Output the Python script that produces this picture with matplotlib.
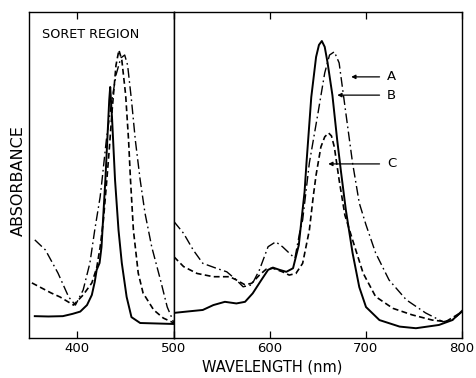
import numpy as np
import matplotlib.pyplot as plt

# Soret region (350-500 nm), absorbance in arbitrary units (0-100)
soret_solid_wl = [356, 370, 385, 395, 403, 410, 415, 418, 420, 423, 425, 427, 429, 431, 433, 434,
                  436, 439, 442.6, 446, 451, 456, 465, 500]
soret_solid_abs = [6.7, 6.6, 6.7, 7.4, 8.1, 10.1, 13.2, 17.2, 20.9, 23.0, 27.9, 38.3, 48.5, 60.7, 73.0, 77.0,
                   66.9, 48.5, 33.1, 23.0, 12.6, 6.4, 4.6, 4.3]

soret_dash_wl = [353, 373, 382, 396, 406, 415, 420, 423.6, 427, 430.5, 433, 436, 440, 443, 446, 450,
                 453, 455, 458, 463, 468, 479, 489, 500]
soret_dash_abs = [16.9, 13.8, 12.6, 10.1, 13.2, 16.9, 21.5, 27.9, 36.2, 48.5, 57.7, 69.9, 83.7, 88.3, 85.3, 74.5,
                  60.7, 48.5, 33.1, 19.9, 13.8, 8.6, 6.1, 4.6]

soret_dd_wl = [356, 367, 380, 391, 398, 406, 413, 418, 423.6, 425, 430, 435, 440, 445, 449, 452,
               456, 460, 465, 470, 477, 486, 493, 500]
soret_dd_abs = [30.1, 27.0, 19.9, 12.6, 10.1, 14.7, 23.0, 33.1, 43.3, 46.9, 60.7, 71.5, 80.7, 85.9, 86.8, 83.7,
                73.0, 60.7, 48.5, 38.3, 27.9, 17.8, 9.5, 4.6]

# visible region (500-800 nm)
vis_solid_wl = [500, 513, 530, 541, 553, 565, 574, 582, 591, 598, 603, 610, 617, 624, 630, 633, 636, 638,
                643, 648, 651, 654, 657, 660, 665, 670, 674, 679, 686, 693, 700, 714, 735, 752, 776, 790, 800]
vis_solid_abs = [7.7, 8.1, 8.6, 10.1, 11.1, 10.6, 11.1, 13.7, 17.8, 20.9, 21.6, 20.9, 20.3, 21.4, 28.5, 36.8,
                 44.8, 53.7, 73.9, 86.2, 89.9, 91.1, 89.3, 84.4, 74.5, 60.7, 50.9, 39.3, 26.1, 15.6, 9.5, 5.5,
                 3.5, 3.0, 4.0, 5.5, 8.3]

vis_dash_wl = [500, 510, 524, 541, 558, 565, 574, 581, 589, 596, 603, 613, 620, 627, 634, 641, 645, 648,
               653, 657, 661, 664, 667, 672, 678, 686, 697, 710, 728, 748, 769, 783, 800]
vis_dash_abs = [24.9, 21.9, 19.8, 18.8, 18.8, 17.8, 16.3, 16.8, 19.3, 21.1, 21.4, 20.3, 19.3, 19.8, 22.9, 33.1,
                43.3, 50.0, 58.6, 61.7, 62.9, 62.0, 58.6, 48.5, 37.7, 30.1, 19.9, 12.7, 9.1, 7.1, 5.5, 5.0, 8.0]

vis_dd_wl = [500, 510, 520, 530, 544, 555, 565, 572, 581, 589, 598, 606, 613, 622, 626, 631, 634, 641,
             650, 657, 662, 667, 672, 679, 686, 693, 700, 710, 724, 742, 762, 780, 790, 800]
vis_dd_abs = [35.7, 32.1, 27.0, 22.9, 21.4, 20.3, 17.8, 15.7, 16.3, 20.9, 28.0, 29.5, 28.0, 25.5, 24.5, 32.5,
              36.2, 53.7, 69.0, 81.3, 86.8, 87.8, 84.4, 69.0, 53.7, 41.4, 34.7, 26.1, 17.8, 11.7, 7.7, 5.0,
              5.5, 8.0]

# curve labels: (label, arrow tip wavelength, arrow tip absorbance)
labels = ['A', 'B', 'C']
label_tip_wl = [681.7, 667.2, 657.8]
label_tip_abs = [80.1, 74.5, 53.4]

plt.rcParams['font.family'] = 'DejaVu Sans'

fig = plt.figure(figsize=(4.77, 3.78), dpi=100)
ax1 = fig.add_axes([29 / 477, 40 / 378, 145 / 477, 326 / 378])
ax2 = fig.add_axes([174 / 477, 40 / 378, 288 / 477, 326 / 378])

dash = (0, (3.5, 2))
dashdot = (0, (7, 2.5, 1.2, 2.5))
ax1.plot(soret_solid_wl, soret_solid_abs, color='k', lw=1.4)
ax1.plot(soret_dash_wl, soret_dash_abs, color='k', lw=1.2, linestyle=dash)
ax1.plot(soret_dd_wl, soret_dd_abs, color='k', lw=1.0, linestyle=dashdot)

ax2.plot(vis_solid_wl, vis_solid_abs, color='k', lw=1.4)
ax2.plot(vis_dash_wl, vis_dash_abs, color='k', lw=1.2, linestyle=dash)
ax2.plot(vis_dd_wl, vis_dd_abs, color='k', lw=1.0, linestyle=dashdot)

for lab, wl, ab in zip(labels, label_tip_wl, label_tip_abs):
    ax2.annotate('', xy=(wl, ab), xytext=(717, ab),
                 arrowprops=dict(arrowstyle='-|>', color='k', lw=0.9, mutation_scale=6))
    ax2.text(722, ab, lab, fontsize=9.5, va='center', ha='left')

ax1.set_xlim(350, 500)
ax2.set_xlim(500, 800)
for ax in (ax1, ax2):
    ax.set_ylim(0, 100)
    ax.set_yticks([])
    ax.tick_params(axis='x', direction='in', top=True, length=5, width=0.9, labelsize=9.5, pad=3)
    for s in ax.spines.values():
        s.set_linewidth(1.0)

ax1.set_xticks([400, 500])
ax1.set_xticklabels(['400', ''])
ax2.set_xticks([500, 600, 700, 800])
ax2.set_xticklabels(['500', '600', '700', '800'])

ax1.text(0.09, 0.93, 'SORET REGION', transform=ax1.transAxes, fontsize=9.2, va='center')
fig.text(18 / 477, 1 - 181 / 378, 'ABSORBANCE', rotation=90, fontsize=11.5, ha='center', va='center')
fig.text(272 / 477, 1 - 367 / 378, 'WAVELENGTH (nm)', fontsize=10.5, ha='center', va='center')

fig.savefig('out.png', dpi=100)
